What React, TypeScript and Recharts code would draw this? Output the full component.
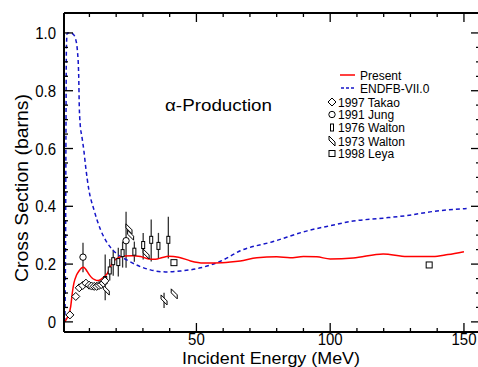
import React from "react";
import { ComposedChart, Line, Scatter, XAxis, YAxis, ErrorBar } from "recharts";

const FONT = '"Liberation Sans", Arial, Helvetica, sans-serif';

// axis ticks
const xTicks = [10, 20, 30, 40, 50, 60, 70, 80, 90, 100, 110, 120, 130, 140, 150];
const xMajor = [50, 100, 150];
const yTicks = [0, 0.05, 0.1, 0.15, 0.2, 0.25, 0.3, 0.35, 0.4, 0.45, 0.5, 0.55, 0.6, 0.65, 0.7, 0.75, 0.8, 0.85, 0.9, 0.95, 1.0];
const yLabels: Record<string, string> = { "0": "0", "0.2": "0.2", "0.4": "0.4", "0.6": "0.6", "0.8": "0.8", "1": "1.0" };

// [energy MeV, cross section b]
const presentCurve: [number, number][] = [
  [0.8, 0.0], [2.0, 0.02], [3.0, 0.053], [3.6, 0.1], [4.2, 0.134], [5.2, 0.162], [6.1, 0.176], [7.0, 0.186],
  [7.7, 0.189], [8.4, 0.185], [9.2, 0.174], [10.2, 0.16], [11.1, 0.151], [12.0, 0.146], [12.9, 0.143],
  [13.9, 0.145], [14.8, 0.151], [15.8, 0.158], [16.7, 0.168], [17.6, 0.185], [18.5, 0.203], [19.5, 0.214],
  [20.4, 0.22], [22.9, 0.228], [26.0, 0.229], [29.1, 0.226], [32.2, 0.218], [34.7, 0.217], [37.0, 0.222],
  [39.6, 0.227], [43.3, 0.224], [47.8, 0.211], [52.6, 0.204], [57.0, 0.204], [62.7, 0.207], [66.4, 0.211],
  [72.6, 0.222], [80.0, 0.225], [85.0, 0.222], [90.0, 0.226], [95.0, 0.225], [100.0, 0.218], [108.6, 0.221],
  [119.8, 0.235], [128.7, 0.226], [138.4, 0.226], [144.0, 0.233], [150.0, 0.243],
];

const endfCurve: [number, number][] = [
  [0.8, 0.0], [1.1, 0.3], [1.25, 0.7], [1.4, 0.95], [1.7, 1.0], [3.0, 1.0], [4.0, 0.995], [4.8, 0.98],
  [5.5, 0.94], [6.0, 0.85], [6.2, 0.75], [6.5, 0.69], [7.2, 0.64], [7.9, 0.595], [8.6, 0.537], [9.8, 0.457],
  [11.7, 0.388], [14.2, 0.318], [16.7, 0.273], [19.8, 0.239], [24.1, 0.214], [29.1, 0.191], [32.8, 0.18],
  [38.4, 0.173], [44.0, 0.176], [51.5, 0.187], [59.0, 0.21], [66.4, 0.246], [78.7, 0.278], [91.4, 0.315],
  [100.0, 0.333], [108.6, 0.349], [119.8, 0.359], [128.7, 0.368], [138.4, 0.382], [149.0, 0.391], [151.0, 0.392],
];

const takao1997: [number, number][] = [
  [2.7, 0.024], [4.9, 0.088], [6.2, 0.118], [7.5, 0.126], [8.7, 0.134], [9.9, 0.127], [10.8, 0.124],
  [11.8, 0.123], [12.7, 0.123], [13.6, 0.126], [14.4, 0.129], [15.2, 0.134], [15.8, 0.142],
];

// [energy, value, err low, err high]
const jung1991: [number, number, number, number][] = [
  [7.6, 0.224, 0.052, 0.05],
  [23.7, 0.281, 0.094, 0.1],
];

const walton1976: [number, number, number, number][] = [
  [15.9, 0.145, 0.07, 0.088], [17.6, 0.178, 0.035, 0.04], [18.9, 0.21, 0.05, 0.04], [20.8, 0.207, 0.05, 0.05],
  [22.4, 0.238, 0.05, 0.04], [26.8, 0.243, 0.035, 0.035], [30.1, 0.266, 0.05, 0.042], [33.1, 0.284, 0.075, 0.07],
  [35.8, 0.263, 0.045, 0.045], [39.5, 0.284, 0.065, 0.08],
];

const walton1973: [number, number, number, number][] = [
  [16.3, 0.11, 0, 0], [24.8, 0.322, 0, 0], [25.4, 0.3, 0, 0], [31.2, 0.235, 0, 0],
  [37.9, 0.076, 0.028, 0.025], [41.7, 0.097, 0, 0],
];

const leya1998: [number, number][] = [
  [41.6, 0.205], [137.0, 0.197],
];

const pts = (a: [number, number][]) => a.map(([e, s]) => ({ e, s }));
const errPts = (a: [number, number, number, number][]) => a.map(([e, s, lo, hi]) => ({ e, s, err: [lo, hi] }));

const isMajorY = (v: number) => Math.abs(v * 5 - Math.round(v * 5)) < 1e-9;

function BottomTick({ x, y, payload }: any) {
  const major = xMajor.includes(payload.value);
  return (
    <g>
      <line x1={x} x2={x} y1={y} y2={y - (major ? 9 : 4)} stroke="#000" strokeWidth={1.3} />
      {major && (
        <text transform={`translate(${x},${y + 12.5}) scale(1,1.08)`} textAnchor="middle" fontSize={15} fontFamily={FONT} fill="#000">
          {payload.value}
        </text>
      )}
    </g>
  );
}

function TopTick({ x, y, payload }: any) {
  const major = xMajor.includes(payload.value);
  return <line x1={x} x2={x} y1={y} y2={y + (major ? 9 : 4)} stroke="#000" strokeWidth={1.3} />;
}

function LeftTick({ x, y, payload }: any) {
  const v = payload.value;
  const major = isMajorY(v);
  const lab = yLabels[String(Math.round(v * 10) / 10)];
  return (
    <g>
      <line x1={x} x2={x + (major ? 9 : 4)} y1={y} y2={y} stroke="#000" strokeWidth={1.3} />
      {major && (
        <text transform={`translate(${x - 8},${y + 6}) scale(1,1.15)`} textAnchor="end" fontSize={15} fontFamily={FONT} fill="#000">
          {lab}
        </text>
      )}
    </g>
  );
}

function RightTick({ x, y, payload }: any) {
  const major = isMajorY(payload.value);
  return <line x1={x} x2={x - (major ? 9 : 4)} y1={y} y2={y} stroke="#000" strokeWidth={1.3} />;
}

const Diamond = (p: any) => (
  <path d={`M${p.cx},${p.cy - 4}L${p.cx + 4},${p.cy}L${p.cx},${p.cy + 4}L${p.cx - 4},${p.cy}Z`} fill="#fff" stroke="#000" strokeWidth={1} />
);
const Circ = (p: any) => <circle cx={p.cx} cy={p.cy} r={3.2} fill="#fff" stroke="#000" strokeWidth={1} />;
const Bar76 = (p: any) => <rect x={p.cx - 1.5} y={p.cy - 3.5} width={3} height={7} fill="#fff" stroke="#000" strokeWidth={1} />;
const Para73 = (p: any) => (
  <path d={`M${p.cx - 3},${p.cy - 5}L${p.cx - 3},${p.cy - 1}L${p.cx + 3},${p.cy + 5}L${p.cx + 3},${p.cy + 1}Z`} fill="#fff" stroke="#000" strokeWidth={1} />
);
const Sq = (p: any) => <rect x={p.cx - 3} y={p.cy - 3} width={6} height={6} fill="#fff" stroke="#000" strokeWidth={1} />;

const axisLine = { stroke: "#000", strokeWidth: 2 };
const xDomain: [number, number] = [0.5, 156];
const yDomain: [number, number] = [-0.035, 1.069];

function Overlay() {
  const t = { fontFamily: FONT, fill: "#000" } as const;
  return (
    <svg width={478} height={367} style={{ position: "absolute", left: 0, top: 0, pointerEvents: "none" }}>
      <text x={165} y={111} fontSize={17} textLength={107} lengthAdjust="spacingAndGlyphs" {...t}>α-Production</text>
      <text x={271} y={363.5} fontSize={17} textAnchor="middle" textLength={178} lengthAdjust="spacingAndGlyphs" {...t}>
        Incident Energy (MeV)
      </text>
      <text transform="translate(28,188) rotate(-90)" fontSize={18} textAnchor="middle" textLength={188} lengthAdjust="spacingAndGlyphs" {...t}>
        Cross Section (barns)
      </text>
      <g fontSize={12} {...t}>
        <line x1={340} x2={355} y1={75} y2={75} stroke="#ff0000" strokeWidth={1.5} />
        <text x={360} y={79.5}>Present</text>
        <line x1={341} x2={356} y1={88} y2={88} stroke="#1515c8" strokeWidth={1.5} strokeDasharray="3 2" />
        <text x={360} y={92.5}>ENDFB-VII.0</text>
        <Diamond cx={332} cy={102} />
        <text x={338} y={106.5}>1997 Takao</text>
        <Circ cx={332} cy={114.5} />
        <text x={338} y={119}>1991 Jung</text>
        <Bar76 cx={332} cy={127.5} />
        <text x={338} y={132}>1976 Walton</text>
        <Para73 cx={332} cy={141} />
        <text x={338} y={145.5}>1973 Walton</text>
        <Sq cx={332} cy={153.5} />
        <text x={338} y={158}>1998 Leya</text>
      </g>
    </svg>
  );
}

export default function App() {
  return (
    <div style={{ position: "absolute", left: 0, top: 0, width: 478, height: 367, overflow: "hidden", background: "#fff" }}>
      <ComposedChart width={482} height={367} margin={{ top: 0, right: 0, bottom: 0, left: 0 }}>
        <XAxis
          xAxisId={0}
          dataKey="e"
          type="number"
          domain={xDomain}
          allowDataOverflow
          ticks={xTicks}
          interval={0}
          height={35}
          tickSize={0}
          tickMargin={0}
          axisLine={axisLine}
          tickLine={false}
          tick={<BottomTick />}
        />
        <XAxis
          xAxisId="top"
          orientation="top"
          dataKey="e"
          type="number"
          domain={xDomain}
          allowDataOverflow
          ticks={xTicks}
          interval={0}
          height={13}
          tickSize={0}
          tickMargin={0}
          axisLine={axisLine}
          tickLine={false}
          tick={<TopTick />}
        />
        <YAxis
          yAxisId={0}
          dataKey="s"
          type="number"
          domain={yDomain}
          allowDataOverflow
          ticks={yTicks}
          interval={0}
          width={64}
          tickSize={0}
          tickMargin={0}
          axisLine={axisLine}
          tickLine={false}
          tick={<LeftTick />}
        />
        <YAxis
          yAxisId="right"
          orientation="right"
          dataKey="s"
          type="number"
          domain={yDomain}
          allowDataOverflow
          ticks={yTicks}
          interval={0}
          width={2}
          tickSize={0}
          tickMargin={0}
          axisLine={axisLine}
          tickLine={false}
          tick={<RightTick />}
        />
        <Scatter data={errPts(walton1976)} dataKey="s" shape={Bar76} isAnimationActive={false}>
          <ErrorBar dataKey="err" direction="y" width={0} stroke="#333" strokeWidth={1.3} />
        </Scatter>
        <Scatter data={errPts(jung1991)} dataKey="s" shape={Circ} isAnimationActive={false}>
          <ErrorBar dataKey="err" direction="y" width={0} stroke="#333" strokeWidth={1.3} />
        </Scatter>
        <Scatter data={errPts(walton1973)} dataKey="s" shape={Para73} isAnimationActive={false}>
          <ErrorBar dataKey="err" direction="y" width={0} stroke="#333" strokeWidth={1.3} />
        </Scatter>
        <Scatter data={pts(takao1997)} dataKey="s" shape={Diamond} isAnimationActive={false} />
        <Scatter data={pts(leya1998)} dataKey="s" shape={Sq} isAnimationActive={false} />
        <Line
          data={pts(endfCurve)}
          dataKey="s"
          type="monotone"
          stroke="#1515c8"
          strokeWidth={1.5}
          strokeDasharray="4 3"
          dot={false}
          isAnimationActive={false}
        />
        <Line data={pts(presentCurve)} dataKey="s" type="monotone" stroke="#ff0000" strokeWidth={1.5} dot={false} isAnimationActive={false} />
      </ComposedChart>
      <Overlay />
    </div>
  );
}
